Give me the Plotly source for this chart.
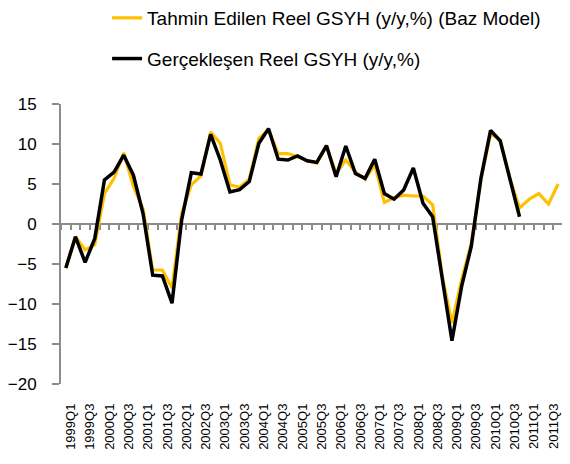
import plotly.graph_objects as go

years = list(range(1999, 2012))
quarters = [f"{y}Q{q}" for y in years for q in range(1, 5)]

forecast = [-5.5, -1.6, -3.25, -2.6, 3.8, 5.7, 8.9, 4.7, 1.9, -5.75,
            -5.75, -8.0, 1.3, 4.9, 6.0, 11.5, 10.1, 4.9, 4.6, 5.6,
            10.7, 11.8, 8.8, 8.8, 8.4, 7.9, 7.6, 9.7, 6.3, 8.0,
            6.5, 5.6, 7.4, 2.7, 3.3, 3.6, 3.5, 3.5, 2.4, -6.5,
            -12.4, -7.0, -2.4, 5.5, 11.3, 10.5, 5.7, 2.0, 3.1, 3.8,
            2.5, 5.0]

actual = [-5.5, -1.6, -4.8, -1.8, 5.5, 6.5, 8.6, 6.1, 1.3, -6.4,
          -6.5, -9.9, 0.5, 6.4, 6.25, 11.2, 8.0, 4.0, 4.3, 5.3,
          10.1, 11.9, 8.1, 8.0, 8.5, 7.9, 7.7, 9.8, 5.9, 9.75,
          6.3, 5.7, 8.1, 3.8, 3.1, 4.25, 7.0, 2.6, 0.9, -6.9,
          -14.6, -7.8, -2.8, 5.7, 11.7, 10.4, 5.5, 0.9]

label_ticks = quarters[::2]
y_ticks = [15, 10, 5, 0, -5, -10, -15, -20]

names = ["Tahmin Edilen Reel GSYH (y/y,%) (Baz Model)",
         "Gerçekleşen Reel GSYH (y/y,%)"]

fig = go.Figure()
fig.add_trace(go.Scatter(x=quarters, y=forecast, mode="lines", name=names[0],
                         line=dict(color="#FFC000", width=3.2),
                         legendgroup="a", xaxis="x"))
fig.add_trace(go.Scatter(x=quarters[:len(actual)], y=actual, mode="lines", name=names[1],
                         line=dict(color="#000000", width=3.5),
                         legendgroup="b", xaxis="x2"))

font_family = "Liberation Sans, Arial, sans-serif"
zero_pos = 20 / 35

fig.update_layout(
    width=554, height=448,
    margin=dict(l=53, r=0, t=96, b=72, autoexpand=False),
    paper_bgcolor="white", plot_bgcolor="white",
    font=dict(family=font_family, size=15, color="#000"),
    showlegend=True,
    legend=dict(x=0.092, y=1.375, xanchor="left", yanchor="top",
                font=dict(size=19, color="#000"),
                traceorder="grouped", tracegroupgap=13,
                bgcolor="rgba(0,0,0,0)"),
    xaxis=dict(type="category", categoryorder="array", categoryarray=quarters,
               range=[-0.5, 51.4], anchor="free", position=zero_pos,
               showline=True, linecolor="#8c8c8c", linewidth=2,
               ticks="outside", ticklen=5, tickcolor="#8c8c8c", tickwidth=2,
               tickson="boundaries", tickmode="array", tickvals=quarters,
               showticklabels=False, showgrid=False, zeroline=False,
               layer="below traces", automargin=False),
    xaxis2=dict(type="category", categoryorder="array", categoryarray=quarters,
                range=[-0.5, 51.4], matches="x", overlaying="x", anchor="y",
                side="bottom", showline=False, ticks="",
                tickmode="array", tickvals=label_ticks, ticktext=label_ticks,
                tickangle=-90, tickfont=dict(size=13), ticklabelstandoff=16,
                ticklabelshift=5,
                showgrid=False, zeroline=False, automargin=False),
    yaxis=dict(range=[-20, 15], tickmode="array", tickvals=y_ticks,
               showline=True, linecolor="#8c8c8c", linewidth=2,
               ticks="outside", ticklen=7, tickcolor="#8c8c8c", tickwidth=2,
               tickfont=dict(size=17), ticklabelstandoff=12,
               showgrid=False, zeroline=False, automargin=False),
)

fig.write_html("out.html")
